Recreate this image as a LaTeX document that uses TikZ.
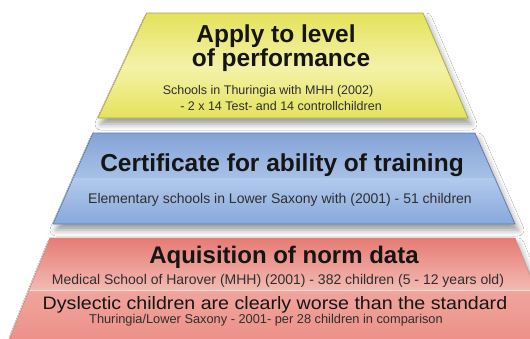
\documentclass[tikz,border=0pt]{standalone}
\usepackage{fontspec}
\setmainfont{Liberation Sans}
\usetikzlibrary{shadows.blur}
\definecolor{yTop}{HTML}{E4E25A}
\definecolor{yMid}{HTML}{F4F2A8}
\definecolor{yBot}{HTML}{E4E35C}
\definecolor{yLine}{HTML}{A8A64A}
\definecolor{bTop}{HTML}{84A4D6}
\definecolor{bMid}{HTML}{A8C0E6}
\definecolor{bLow}{HTML}{B2CAEC}
\definecolor{bBot}{HTML}{88A8DC}
\definecolor{bLine}{HTML}{5878A8}
\definecolor{rTop}{HTML}{E57C74}
\definecolor{rMid}{HTML}{F3BAB3}
\definecolor{rLow}{HTML}{F0A59D}
\definecolor{rBot}{HTML}{EC8C84}
\definecolor{rLine}{HTML}{D88880}
\definecolor{txt}{HTML}{151515}
\definecolor{subtxt}{HTML}{2E2E2E}
\tikzset{
  shad/.style={fill=white, blur shadow={shadow xshift=3pt, shadow yshift=-6pt, shadow blur radius=6pt, shadow opacity=40}},
  title/.style={anchor=base, inner sep=0pt, text=txt, font=\bfseries\fontsize{24.5}{28}\selectfont},
  sub/.style={anchor=base, inner sep=0pt, text=subtxt, font=\fontsize{#1}{15}\selectfont},
}
\begin{document}
\begin{tikzpicture}[x=1pt,y=-1pt]
\useasboundingbox (0,0) rectangle (530,338);
\fill[white] (0,0) rectangle (530,338);
% yellow
\path[shad] (146.7,13) -- (423,13) -- (468,118) -- (98,118) -- cycle;
\begin{scope}
\clip (146.7,13) -- (423,13) -- (468,118) -- (98,118) -- cycle;
\shade[top color=yTop, bottom color=yMid] (0,13) rectangle (530,67);
\shade[top color=yMid, bottom color=yBot] (0,67) rectangle (530,118);
\end{scope}
\draw[yLine, line width=0.7pt] (146.7,13) -- (423,13) -- (468,118) -- (98,118) -- cycle;
% blue
\path[shad] (93,133) -- (475,133) -- (515,224) -- (53,224) -- cycle;
\begin{scope}
\clip (93,133) -- (475,133) -- (515,224) -- (53,224) -- cycle;
\shade[top color=bTop, bottom color=bMid] (0,133) rectangle (530,178);
\shade[top color=bLow, bottom color=bBot] (0,178) rectangle (530,224);
\end{scope}
\draw[bLine, line width=0.7pt] (93,133) -- (475,133) -- (515,224) -- (53,224) -- cycle;
% red
\path[shad] (50,238) -- (515,238) -- (560,350) -- (5,350) -- cycle;
\begin{scope}
\clip (50,238) -- (515,238) -- (560,350) -- (5,350) -- cycle;
\shade[top color=rTop, bottom color=rMid] (0,238) rectangle (530,290);
\shade[top color=rLow, bottom color=rBot] (0,290) rectangle (530,350);
\draw[white, opacity=0.6, line width=1pt] (0,290.5) -- (530,290.5);
\end{scope}
\draw[rLine, line width=0.7pt] (5,350) -- (50,238) -- (515,238) -- (560,350);
% texts
\node[title] (y1) at (276,42.5) {Apply to level};
\node[title] (y2) at (281,66) {of performance};
\node[sub=12.5] (y3) at (268,94) {Schools in Thuringia with MHH (2002)};
\node[sub=12.5] (y4) at (281,110) {- 2 x 14 Test- and 14 controllchildren};
\node[title] (b1) at (282,171) {Certificate for ability of training};
\node[sub=14] (b2) at (280,203) {Elementary schools in Lower Saxony with (2001) - 51 children};
\node[title, font=\bfseries\fontsize{24}{28}\selectfont] (r1) at (284,263) {Aquisition of norm data};
\node[sub=14] (r2) at (278,284.5) {Medical School of Harover (MHH) (2001) - 382 children (5 - 12 years old)};
\node[sub=18, text=txt, xscale=1.09] (r3) at (275,309.5) {Dyslectic children are clearly worse than the standard};
\node[sub=12.8] (r4) at (266,323.5) {Thuringia/Lower Saxony - 2001- per 28 children in comparison};
\end{tikzpicture}
\end{document}
